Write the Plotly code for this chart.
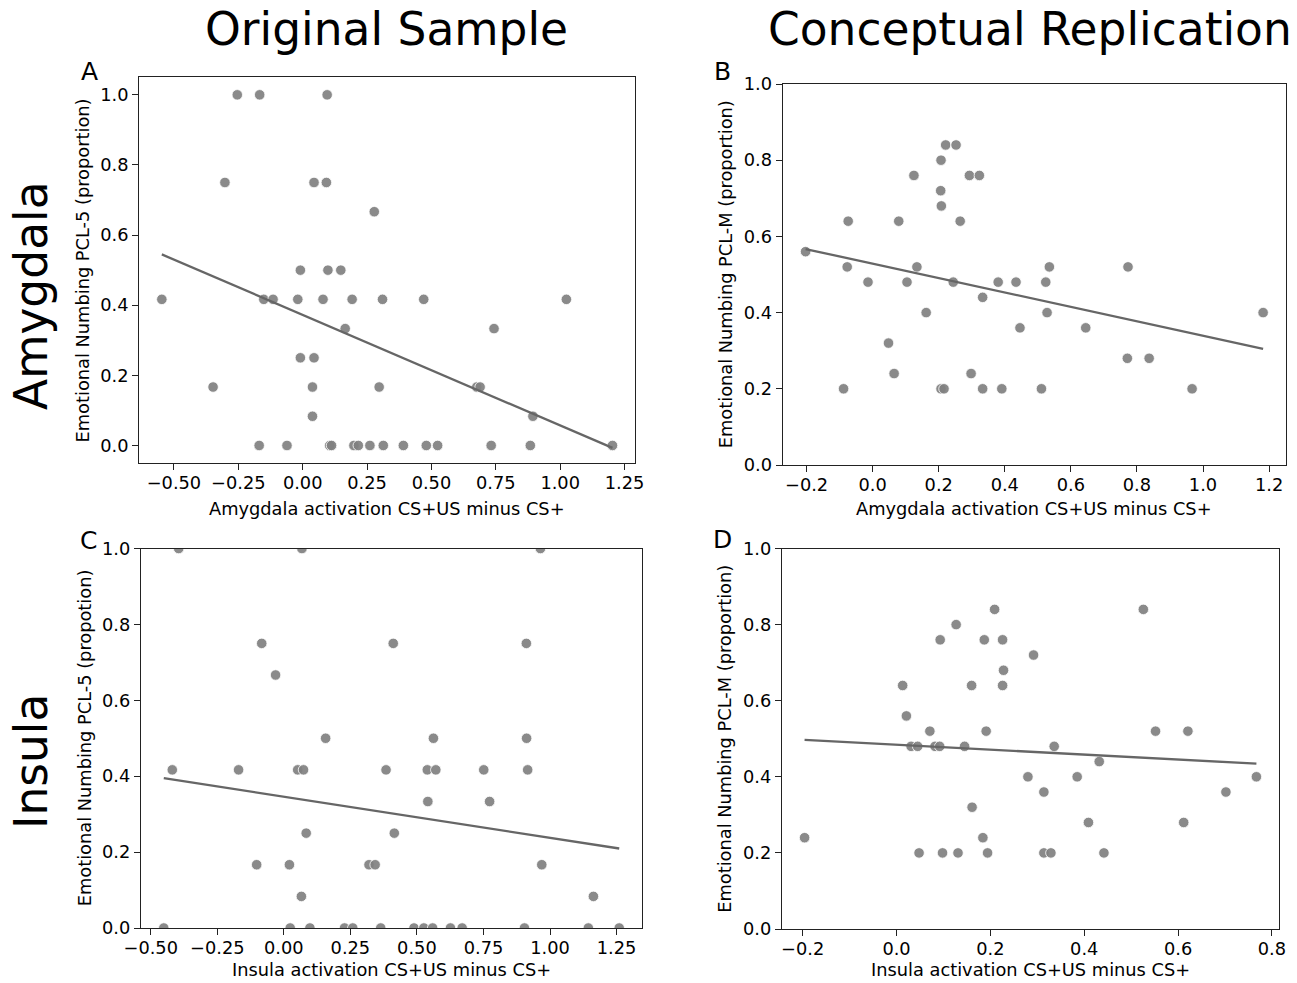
import numpy as np
import plotly.graph_objects as go

W, H = 1297, 983
FONT = "DejaVu Sans"

# ---------------- data ----------------
# Panel A: Original sample, amygdala
a_x = [-0.254, -0.167, 0.095,
       -0.302, 0.044, 0.092,
       0.278,
       -0.009, 0.098, 0.148,
       -0.547, -0.151, -0.115, -0.019, 0.079, 0.192, 0.310, 0.470, 1.024,
       0.165, 0.743,
       -0.009, 0.044,
       -0.348, 0.038, 0.297, 0.676, 0.689,
       0.038, 0.894,
       -0.169, -0.061, 0.105, 0.112, 0.199, 0.216, 0.261, 0.313, 0.391, 0.480, 0.524, 0.732, 0.884, 1.203]
a_y = [1.0, 1.0, 1.0,
       0.75, 0.75, 0.75,
       0.6667,
       0.5, 0.5, 0.5,
       0.4167, 0.4167, 0.4167, 0.4167, 0.4167, 0.4167, 0.4167, 0.4167, 0.4167,
       0.3333, 0.3333,
       0.25, 0.25,
       0.1667, 0.1667, 0.1667, 0.1667, 0.1667,
       0.0833, 0.0833,
       0, 0, 0, 0, 0, 0, 0, 0, 0, 0, 0, 0, 0, 0]

# Panel B: Conceptual replication, amygdala
b_x = [0.221, 0.2525,
       0.207,
       0.125, 0.293, 0.323,
       0.206,
       0.208,
       -0.074, 0.079, 0.265,
       -0.203,
       -0.077, 0.134, 0.535, 0.773,
       -0.014, 0.104, 0.244, 0.380, 0.434, 0.524,
       0.333,
       0.162, 0.528, 1.182,
       0.446, 0.645,
       0.048,
       0.771, 0.837,
       0.065, 0.298,
       -0.088, 0.207, 0.216, 0.333, 0.391, 0.511, 0.967]
b_y = [0.84, 0.84,
       0.80,
       0.76, 0.76, 0.76,
       0.72,
       0.68,
       0.64, 0.64, 0.64,
       0.56,
       0.52, 0.52, 0.52, 0.52,
       0.48, 0.48, 0.48, 0.48, 0.48, 0.48,
       0.44,
       0.40, 0.40, 0.40,
       0.36, 0.36,
       0.32,
       0.28, 0.28,
       0.24, 0.24,
       0.20, 0.20, 0.20, 0.20, 0.20, 0.20, 0.20]

# Panel C: Original sample, insula
c_x = [-0.395, 0.068, 0.964,
       -0.083, 0.411, 0.911,
       -0.031,
       0.157, 0.562, 0.912,
       -0.419, -0.170, 0.052, 0.074, 0.384, 0.539, 0.571, 0.751, 0.916,
       0.541, 0.773,
       0.084, 0.415,
       -0.102, 0.021, 0.320, 0.343, 0.969,
       0.066, 1.163,
       -0.451, 0.024, 0.098, 0.228, 0.259, 0.364, 0.489, 0.526, 0.559, 0.626, 0.670, 0.904, 1.144, 1.260]
c_y = [1.0, 1.0, 1.0,
       0.75, 0.75, 0.75,
       0.6667,
       0.5, 0.5, 0.5,
       0.4167, 0.4167, 0.4167, 0.4167, 0.4167, 0.4167, 0.4167, 0.4167, 0.4167,
       0.3333, 0.3333,
       0.25, 0.25,
       0.1667, 0.1667, 0.1667, 0.1667, 0.1667,
       0.0833, 0.0833,
       0, 0, 0, 0, 0, 0, 0, 0, 0, 0, 0, 0, 0, 0]

# Panel D: Conceptual replication, insula
d_x = [0.209, 0.526,
       0.127,
       0.093, 0.187, 0.226,
       0.292,
       0.228,
       0.013, 0.160, 0.226,
       0.021,
       0.071, 0.191, 0.552, 0.621,
       0.031, 0.045, 0.082, 0.092, 0.145, 0.336,
       0.432,
       0.280, 0.385, 0.767,
       0.314, 0.702,
       0.161,
       0.409, 0.612,
       -0.196, 0.184,
       0.048, 0.098, 0.131, 0.194, 0.314, 0.329, 0.442]
d_y = [0.84, 0.84,
       0.80,
       0.76, 0.76, 0.76,
       0.72,
       0.68,
       0.64, 0.64, 0.64,
       0.56,
       0.52, 0.52, 0.52, 0.52,
       0.48, 0.48, 0.48, 0.48, 0.48, 0.48,
       0.44,
       0.40, 0.40, 0.40,
       0.36, 0.36,
       0.32,
       0.28, 0.28,
       0.24, 0.24,
       0.20, 0.20, 0.20, 0.20, 0.20, 0.20, 0.20]

col_titles = ["Original Sample", "Conceptual Replication"]
row_titles = ["Amygdala", "Insula"]
panel_letters = ["A", "B", "C", "D"]
x_titles = ["Amygdala activation CS+US minus CS+", "Amygdala activation CS+US minus CS+",
            "Insula activation CS+US minus CS+", "Insula activation CS+US minus CS+"]
y_titles = ["Emotional Numbing PCL-5 (proportion)", "Emotional Numbing PCL-M (proportion)",
            "Emotional Numbing PCL-5 (propotion)", "Emotional Numbing PCL-M (proportion)"]

# ---------------- layout (pixel boxes of each axes frame) ----------------
def px_x(v):
    return v / W

def px_y(v):
    return 1 - v / H

boxes = [  # left, right, top, bottom in px
    (139.3, 635.0, 77.3, 463.0),
    (782.7, 1286.0, 84.0, 465.0),
    (141.0, 642.0, 548.5, 928.0),
    (782.0, 1279.0, 548.5, 929.0),
]
x_title_offset = [45, 43, 41, 40]

def pad(vals, frac=0.05):
    lo, hi = min(vals), max(vals)
    span = hi - lo
    return [lo - frac * span, hi + frac * span]

panels = [(a_x, a_y), (b_x, b_y), (c_x, c_y), (d_x, d_y)]
y_fixed = [None, [0, 1], [0, 1], [0, 1]]
x_dtick = [0.25, 0.2, 0.25, 0.2]
x_fmt = [".2f", ".1f", ".2f", ".1f"]

LBL = 17.8

fig = go.Figure()
layout = dict(width=W, height=H, autosize=False, template="none",
              margin=dict(l=0, r=0, t=0, b=0, pad=0),
              paper_bgcolor="white", plot_bgcolor="white",
              showlegend=False, font=dict(family=FONT, size=LBL, color="black"))

annotations = []
for i, ((xs, ys), box) in enumerate(zip(panels, boxes)):
    n = "" if i == 0 else str(i + 1)
    xa, ya = "x" + n, "y" + n
    xs = np.array(xs, dtype=float)
    ys = np.array(ys, dtype=float)
    fig.add_trace(go.Scatter(
        x=xs, y=ys, mode="markers", xaxis=xa, yaxis=ya,
        marker=dict(size=10.5, color="rgba(128,128,128,0.92)",
                    line=dict(color="white", width=0.8)),
        hoverinfo="skip"))
    slope, intercept = np.polyfit(xs, ys, 1)
    lx = np.array([xs.min(), xs.max()])
    fig.add_trace(go.Scatter(
        x=lx, y=slope * lx + intercept, mode="lines", xaxis=xa, yaxis=ya,
        line=dict(color="#666666", width=2.3), hoverinfo="skip"))

    l, r, t, b = box
    axis_common = dict(showline=True, mirror=True, linecolor="#222222", linewidth=1.3,
                       ticks="outside", ticklen=6, tickwidth=1.3, tickcolor="#222222",
                       showgrid=False, zeroline=False, automargin=False,
                       tickfont=dict(family=FONT, size=LBL, color="black"))
    layout["xaxis" + n] = dict(axis_common, domain=[px_x(l), px_x(r)],
                               anchor=ya, range=pad(xs), tick0=0, dtick=x_dtick[i],
                               tickformat=x_fmt[i], ticklabelstandoff=-3)
    yr = y_fixed[i] if y_fixed[i] is not None else pad(ys)
    layout["yaxis" + n] = dict(axis_common, domain=[px_y(b), px_y(t)],
                               anchor=xa, range=yr, tick0=0, dtick=0.2, tickformat=".1f")

    cx = (l + r) / 2
    cy = (t + b) / 2
    # x title
    annotations.append(dict(text=x_titles[i], xref="paper", yref="paper",
                            x=px_x(cx), y=px_y(b + x_title_offset[i]),
                            xanchor="center", yanchor="middle",
                            showarrow=False, font=dict(family=FONT, size=LBL, color="black")))
    # y title
    annotations.append(dict(text=y_titles[i], xref="paper", yref="paper",
                            x=px_x(l - 57), y=px_y(cy), xanchor="center", yanchor="middle",
                            textangle=-90, showarrow=False,
                            font=dict(family=FONT, size=LBL, color="black")))

letter_pos = [(89, 71), (723, 71), (88, 540), (722, 539)]
for letter, (lx_, ly_) in zip(panel_letters, letter_pos):
    annotations.append(dict(text=letter, xref="paper", yref="paper",
                            x=px_x(lx_), y=px_y(ly_), xanchor="center", yanchor="middle",
                            showarrow=False, font=dict(family=FONT, size=25, color="black")))

col_pos = [(387, 29), (1030, 29)]
for txt, (tx, ty) in zip(col_titles, col_pos):
    annotations.append(dict(text=txt, xref="paper", yref="paper",
                            x=px_x(tx), y=px_y(ty), xanchor="center", yanchor="middle",
                            showarrow=False, font=dict(family=FONT, size=45.5, color="black")))

row_pos = [(31, 296), (31, 762)]
for txt, (tx, ty) in zip(row_titles, row_pos):
    annotations.append(dict(text=txt, xref="paper", yref="paper",
                            x=px_x(tx), y=px_y(ty), xanchor="center", yanchor="middle",
                            textangle=-90, showarrow=False,
                            font=dict(family=FONT, size=45.5, color="black")))

layout["annotations"] = annotations
fig.update_layout(**layout)
fig.write_html("out.html", config={"displayModeBar": False},
               post_script="document.body.style.margin='0';")
